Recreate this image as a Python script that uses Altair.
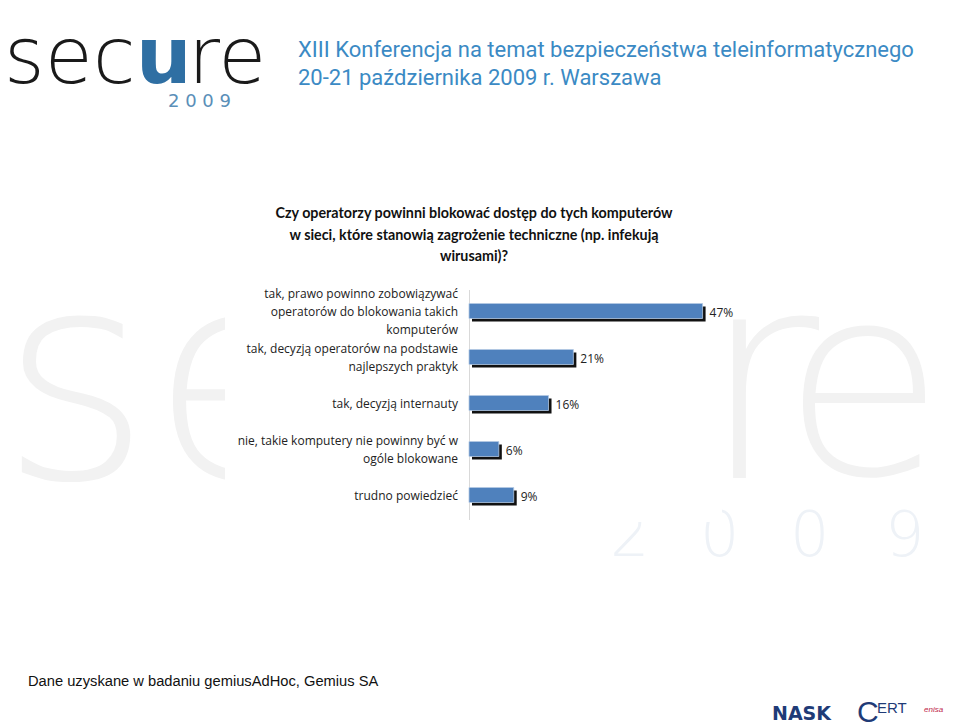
import altair as alt
import pandas as pd

# ---- data ----
categories = [
    "tak, prawo powinno zobowiązywać operatorów do blokowania takich komputerów",
    "tak, decyzją operatorów na podstawie najlepszych praktyk",
    "tak, decyzją internauty",
    "nie, takie komputery nie powinny być w ogóle blokowane",
    "trudno powiedzieć",
]
label_lines = [
    "tak, prawo powinno zobowiązywać\noperatorów do blokowania takich\nkomputerów",
    "tak, decyzją operatorów na podstawie\nnajlepszych praktyk",
    "tak, decyzją internauty",
    "nie, takie komputery nie powinny być w\nogóle blokowane",
    "trudno powiedzieć",
]
values = [47, 21, 16, 6, 9]
value_labels = ["47%", "21%", "16%", "6%", "9%"]

title_lines = [
    "Czy operatorzy powinni blokować dostęp do tych komputerów",
    "w sieci, które stanowią zagrożenie techniczne (np. infekują",
    "wirusami)?",
]
header_lines = [
    "XIII Konferencja na temat bezpieczeństwa teleinformatycznego",
    "20-21 października 2009 r. Warszawa",
]
footer_text = "Dane uzyskane w badaniu gemiusAdHoc, Gemius SA"

df = pd.DataFrame({"category": categories, "label": label_lines,
                   "value": values, "vlabel": value_labels})
df["nlines"] = df["label"].str.count("\n") + 1

FONT = "Open Sans"
LH = 18
xs = alt.Scale(domain=[0, 100], range=[469, 966])
ys = alt.Scale(domain=categories, range=[288, 518], paddingInner=0, paddingOuter=0)
X = alt.X("value:Q", scale=xs, axis=None)
Y = alt.Y("category:N", scale=ys, axis=None, sort=None)

base = alt.Chart(df)

shadow = base.mark_bar(color="#111111", height=15, xOffset=3, x2Offset=3, yOffset=3).encode(x=X, y=Y)
bars = base.mark_bar(color="#4f81bd", height=15, stroke="#b4c9e3", strokeWidth=0.8).encode(x=X, y=Y)
vals = base.mark_text(align="left", baseline="middle", dx=7, dy=2, font=FONT, fontSize=12,
                      color="#222222").encode(x=X, y=Y, text="vlabel:N")

cat_layers = []
for n in (1, 2, 3):
    cat_layers.append(
        base.transform_filter(alt.datum.nlines == n).mark_text(
            align="right", baseline="middle", font=FONT, fontSize=12, lineBreak="\n",
            lineHeight=LH, dy=-(n - 1) * LH / 2 + 1, color="#222222"
        ).encode(x=alt.value(458), y=Y, text="label:N")
    )

one = alt.Data(values=[{"a": 1}])


def txt(text, x, y, **kw):
    return alt.Chart(one).mark_text(text=text, **kw).encode(x=alt.value(x), y=alt.value(y))


axis_line = alt.Chart(one).mark_rule(color="#d9d9d9", strokeWidth=1).encode(
    x=alt.value(469.5), y=alt.value(290), y2=alt.value(520))

layers = []
# background watermark
wm = "#f2f2f2"
wmb = "#eef2f7"
layers += [
    txt("s", 0, 478, align="left", baseline="alphabetic", font="DejaVu Sans", fontWeight=200,
        fontSize=290, color=wm),
    txt("e", 150, 478, align="left", baseline="alphabetic", font="DejaVu Sans", fontWeight=200,
        fontSize=290, color=wm),
    txt("r", 700, 478, align="left", baseline="alphabetic", font="DejaVu Sans", fontWeight=200,
        fontSize=290, color=wm),
    txt("e", 782, 474, align="left", baseline="alphabetic", font="DejaVu Sans", fontWeight=200,
        fontSize=265, color=wm),
    txt("2", 610, 556, align="left", baseline="alphabetic", font="DejaVu Sans", fontWeight=200,
        fontSize=62, color=wmb),
    txt("0", 700, 556, align="left", baseline="alphabetic", font="DejaVu Sans", fontWeight=200,
        fontSize=62, color=wmb),
    txt("0", 790, 556, align="left", baseline="alphabetic", font="DejaVu Sans", fontWeight=200,
        fontSize=62, color=wmb),
    txt("9", 885, 556, align="left", baseline="alphabetic", font="DejaVu Sans", fontWeight=200,
        fontSize=62, color=wmb),
]
# white panel behind the chart (hides part of the watermark, as on the slide)
panel = alt.Chart(one).mark_rect(color="white").encode(
    x=alt.value(225), x2=alt.value(722), y=alt.value(282), y2=alt.value(522))
layers.append(panel)

# header logo + header text
layers += [
    txt("sec", 4, 83, align="left", baseline="alphabetic", font="DejaVu Sans", fontWeight=200,
        fontSize=78, color="#1a1a1a"),
    txt("u", 136, 83, align="left", baseline="alphabetic", font="DejaVu Sans", fontWeight="bold",
        fontSize=78, color="#2f6fa3"),
    txt("re", 188, 83, align="left", baseline="alphabetic", font="DejaVu Sans", fontWeight=200,
        fontSize=78, color="#1a1a1a"),
    txt("2 0 0 9", 168, 107, align="left", baseline="alphabetic", font="DejaVu Sans",
        fontSize=18, color="#5a8fb8"),
    txt(header_lines[0], 298, 57, align="left", baseline="alphabetic", font="Roboto",
        fontSize=22, color="#3b8ac4"),
    txt(header_lines[1], 298, 85, align="left", baseline="alphabetic", font="Roboto",
        fontSize=22, color="#3b8ac4"),
]
# title
for i, t in enumerate(title_lines):
    layers.append(txt(t, 474, 214 + i * 21.5, align="center", baseline="middle", font="Lato",
                      fontSize=14.3, fontWeight="bold", color="#111111"))
# footer
layers += [
    txt(footer_text, 28, 686, align="left", baseline="alphabetic", font="Liberation Sans",
        fontSize=14.7, color="#111111"),
    txt("NASK", 772, 720, align="left", baseline="alphabetic", font="DejaVu Sans",
        fontSize=19, fontWeight="bold", color="#1f3b77"),
    txt("C", 857, 722, align="left", baseline="alphabetic", font="Liberation Sans",
        fontSize=30, color="#1f3b77"),
    txt("ERT", 877, 713, align="left", baseline="alphabetic", font="Liberation Sans",
        fontSize=15, color="#1f3b77"),
    txt("enisa", 924, 712, align="left", baseline="alphabetic", font="Liberation Sans",
        fontSize=8, fontStyle="italic", color="#c0274b"),
]

chart = alt.layer(*layers, axis_line, shadow, bars, vals, *cat_layers).properties(
    width=960, height=728, autosize=alt.AutoSizeParams(type="none"), padding=0,
    background="white"
).configure_view(stroke=None)

chart.save("out.html", embed_options={"renderer": "svg", "actions": False})
